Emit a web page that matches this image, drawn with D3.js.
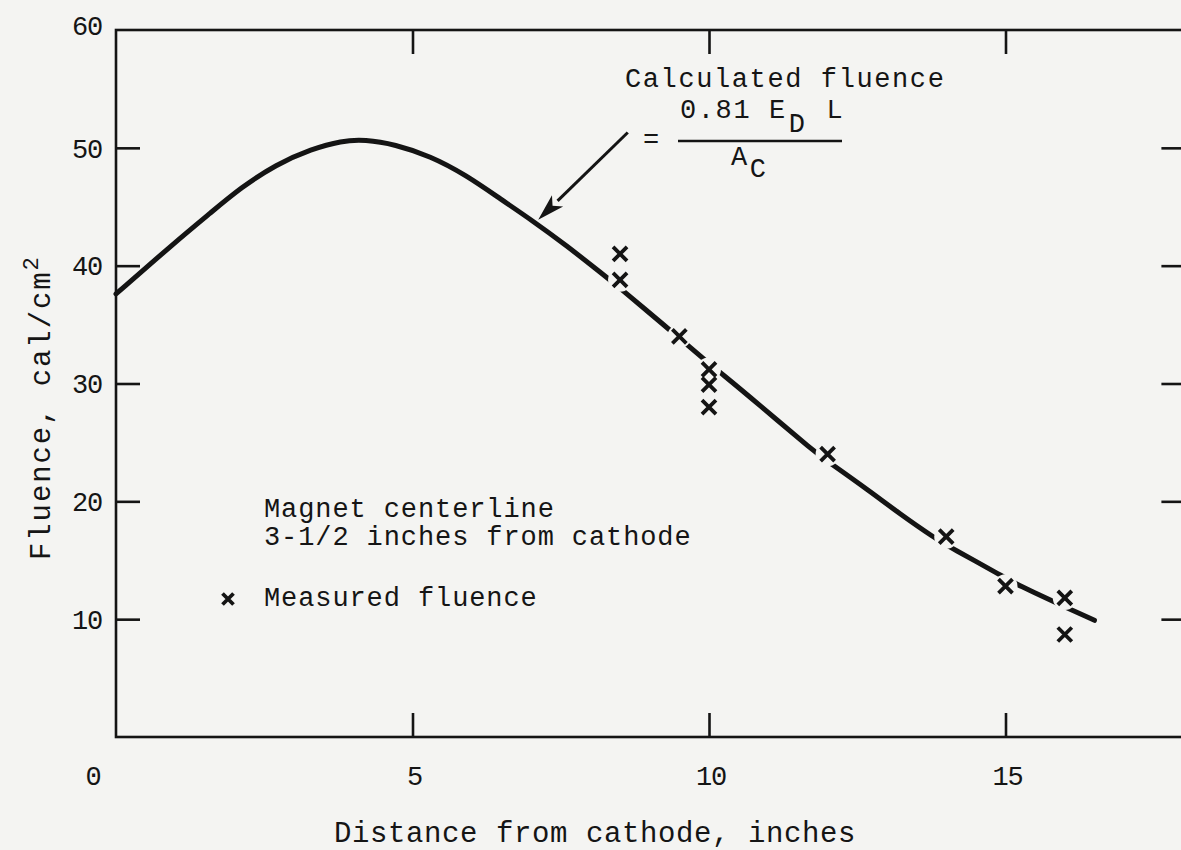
<!DOCTYPE html>
<html>
<head>
<meta charset="utf-8">
<script src="https://cdn.jsdelivr.net/npm/d3@7"></script>
<style>
  html, body { margin: 0; padding: 0; background: #f4f4f2; }
  svg { display: block; }
  text { font-family: "Liberation Mono", "Courier New", monospace; fill: #151515; }
</style>
</head>
<body>
<svg id="chart" width="1181" height="850"></svg>
<script>
// ---- data ----
const curveX = [0.0, 1.0, 1.6, 2.1, 2.7, 3.3, 3.8, 4.2, 4.7, 5.3, 5.9, 6.5, 7.0, 7.6, 8.2, 8.5, 9.3, 9.7, 10.0, 10.2, 10.8, 11.8, 12.0, 12.7, 13.2, 13.8, 14.1, 14.9, 15.2, 16.0, 16.5];
const curveY = [37.6, 42.0, 44.5, 46.6, 48.6, 49.9, 50.6, 50.7, 50.3, 49.3, 47.7, 45.6, 43.9, 41.7, 39.3, 38.1, 34.7, 33.0, 31.7, 30.9, 28.4, 24.1, 23.4, 20.9, 19.0, 16.9, 16.0, 13.8, 12.9, 11.05, 9.9];

const measuredX = [8.5, 8.5, 9.5, 10.0, 10.0, 10.0, 12.0, 14.0, 15.0, 16.0, 16.0];
const measuredY = [41.0, 38.8, 34.0, 31.2, 29.9, 28.0, 24.0, 17.0, 12.8, 11.8, 8.7];

const xTickValues = [0, 5, 10, 15];
const xTickLabels = ["0", "5", "10", "15"];
const yTickValues = [10, 20, 30, 40, 50, 60];
const yTickLabels = ["10", "20", "30", "40", "50", "60"];

const xTitle = "Distance from cathode, inches";
const yTitle = "Fluence, cal/cm";
const noteTitle = "Calculated fluence";
const legendLines = ["Magnet centerline", "3-1/2 inches from cathode"];
const legendMarkLabel = "Measured fluence";
const arrowFrom = [8.63, 51.3];
const arrowTo = [7.12, 43.9];

// ---- layout ----
const ink = "#141414";
const bg = "#f4f4f2";
const svg = d3.select("#chart");
const x = d3.scaleLinear().domain([0, 18]).range([116, 1183.4]);
const y = d3.scaleLinear().domain([0, 60]).range([737, 30]);

// frame
svg.append("rect")
  .attr("x", x(0)).attr("y", y(60))
  .attr("width", x(18) - x(0)).attr("height", y(0) - y(60))
  .attr("fill", "none").attr("stroke", ink).attr("stroke-width", 2.6);

function styleAxis(g) {
  g.select(".domain").remove();
  g.selectAll(".tick line").attr("stroke", ink).attr("stroke-width", 2.6);
}

const tickFont = 27, tickLS = -1.2;

// left axis ticks + labels
const gL = svg.append("g").attr("transform", `translate(${x(0)},0)`)
  .call(d3.axisLeft(y).tickValues(yTickValues.slice(0, 5)).tickSize(-24).tickFormat(""));
styleAxis(gL);
svg.append("g").selectAll("text").data(yTickValues).join("text")
  .attr("x", 102).attr("y", (d) => y(d) + (d === 60 ? -5 : 0))
  .attr("dy", "0.36em").attr("text-anchor", "end")
  .attr("font-size", tickFont).attr("letter-spacing", tickLS)
  .text((d, i) => yTickLabels[i]);

// right axis (ticks only)
const gR = svg.append("g").attr("transform", `translate(${x(18)},0)`)
  .call(d3.axisRight(y).tickValues(yTickValues.slice(0, 5)).tickSize(-22).tickFormat(""));
styleAxis(gR);

// bottom axis
const gB = svg.append("g").attr("transform", `translate(0,${y(0)})`)
  .call(d3.axisBottom(x).tickValues(xTickValues.slice(1)).tickSize(-24).tickFormat(""));
styleAxis(gB);
svg.append("g").selectAll("text").data(xTickValues).join("text")
  .attr("x", (d) => d === 0 ? x(0) - 23 : x(d) + 2)
  .attr("y", y(0) + 38).attr("dy", "0.36em").attr("text-anchor", "middle")
  .attr("font-size", tickFont).attr("letter-spacing", tickLS)
  .text((d, i) => xTickLabels[i]);

// top axis (ticks only)
const gT = svg.append("g").attr("transform", `translate(0,${y(60)})`)
  .call(d3.axisTop(x).tickValues(xTickValues.slice(1)).tickSize(-24).tickFormat(""));
styleAxis(gT);

// axis titles
svg.append("text").attr("x", 595).attr("y", 842).attr("text-anchor", "middle")
  .attr("font-size", 29).attr("letter-spacing", 0.6).text(xTitle);
const yt = svg.append("text").attr("transform", "translate(50,560) rotate(-90)")
  .attr("font-size", 29).attr("letter-spacing", 1.9);
yt.append("tspan").text(yTitle);
yt.append("tspan").attr("dy", -12).attr("font-size", 22).text("2");

// calculated fluence curve
const curveData = curveX.map((d, i) => [d, curveY[i]]);
svg.append("path").datum(curveData)
  .attr("fill", "none").attr("stroke", ink).attr("stroke-width", 5)
  .attr("stroke-linecap", "round")
  .attr("d", d3.line().x((d) => x(d[0])).y((d) => y(d[1])).curve(d3.curveBasis));

// measured points: halo gaps then crosses
const pts = measuredX.map((d, i) => [d, measuredY[i]]);
const crossPath = (s) => `M${-s},${-s}L${s},${s}M${-s},${s}L${s},${-s}`;
svg.append("g").selectAll("circle").data(pts).join("circle")
  .attr("cx", (d) => x(d[0])).attr("cy", (d) => y(d[1])).attr("r", 12).attr("fill", bg);
svg.append("g").selectAll("path").data(pts).join("path")
  .attr("transform", (d) => `translate(${x(d[0])},${y(d[1])})`)
  .attr("d", crossPath(7)).attr("stroke", ink).attr("stroke-width", 3.8).attr("fill", "none");

// arrow annotation
const ax1 = x(arrowFrom[0]), ay1 = y(arrowFrom[1]);
const ax2 = x(arrowTo[0]), ay2 = y(arrowTo[1]);
const ang = Math.atan2(ay2 - ay1, ax2 - ax1);
const headLen = 27, headW = 8;
const bx = ax2 - headLen * Math.cos(ang), by = ay2 - headLen * Math.sin(ang);
svg.append("line").attr("x1", ax1).attr("y1", ay1).attr("x2", bx).attr("y2", by)
  .attr("stroke", ink).attr("stroke-width", 3);
svg.append("path")
  .attr("d", `M${ax2},${ay2}L${bx + headW * Math.sin(ang)},${by - headW * Math.cos(ang)}L${bx + 7 * Math.cos(ang)},${by + 7 * Math.sin(ang)}L${bx - headW * Math.sin(ang)},${by + headW * Math.cos(ang)}Z`)
  .attr("fill", ink);

// annotation text
const noteFont = 27, noteLS = 0.9;
svg.append("text").attr("x", 625).attr("y", 87).attr("font-size", noteFont)
  .attr("letter-spacing", 1.6).text(noteTitle);
svg.append("text").attr("x", 643).attr("y", 148).attr("font-size", noteFont).text("=");
const num = svg.append("text").attr("x", 680).attr("y", 118).attr("font-size", noteFont)
  .attr("letter-spacing", 1.6);
num.append("tspan").text("0.81 E");
num.append("tspan").attr("dy", 14).attr("dx", 2).text("D");
num.append("tspan").attr("dy", -14).attr("dx", 2).text(" L");
svg.append("line").attr("x1", 678).attr("x2", 842).attr("y1", 141).attr("y2", 141)
  .attr("stroke", ink).attr("stroke-width", 2.4);
const den = svg.append("text").attr("x", 731).attr("y", 165).attr("font-size", noteFont)
  .attr("letter-spacing", 1.6);
den.append("tspan").text("A");
den.append("tspan").attr("dy", 12).attr("dx", 1).text("C");

// legend text
svg.append("g").selectAll("text").data(legendLines).join("text")
  .attr("x", 264).attr("y", (d, i) => 517 + i * 28)
  .attr("font-size", noteFont).attr("letter-spacing", noteLS).text((d) => d);
svg.append("path").attr("transform", "translate(228,599)").attr("d", crossPath(5.5))
  .attr("stroke", ink).attr("stroke-width", 3.8).attr("fill", "none");
svg.append("text").attr("x", 264).attr("y", 606).attr("font-size", noteFont)
  .attr("letter-spacing", noteLS).text(legendMarkLabel);
</script>
</body>
</html>
